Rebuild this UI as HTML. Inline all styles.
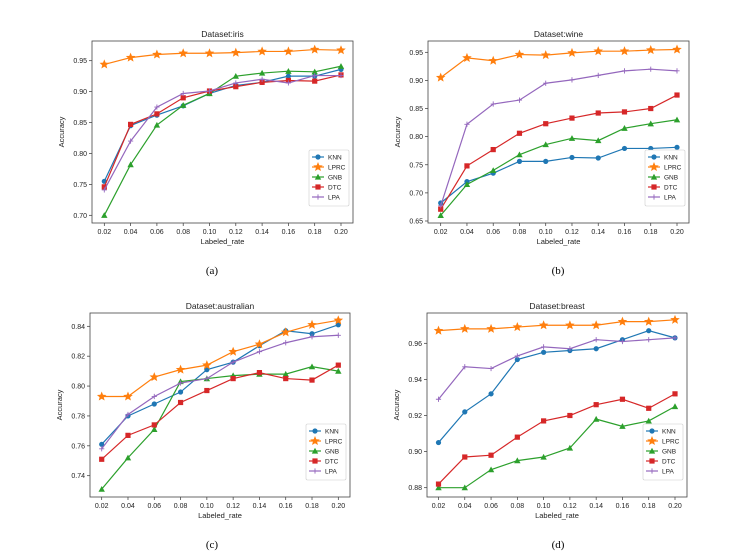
<!DOCTYPE html>
<html><head><meta charset="utf-8"><style>
body{margin:0;background:#fff;}
svg{display:block;font-family:"Liberation Sans","DejaVu Sans",sans-serif;}
</style></head><body>
<svg id="fig" width="751" height="556" viewBox="0 0 751 556"></svg>
<script>
const rates = [0.02,0.04,0.06,0.08,0.10,0.12,0.14,0.16,0.18,0.20];
const xTickLabels = ["0.02","0.04","0.06","0.08","0.10","0.12","0.14","0.16","0.18","0.20"];
const seriesNames = ["KNN","LPRC","GNB","DTC","LPA"];

const irisKNN  = [0.755,0.845,0.862,0.877,0.897,0.910,0.915,0.925,0.925,0.936];
const irisLPRC = [0.944,0.955,0.960,0.962,0.962,0.963,0.965,0.965,0.968,0.967];
const irisGNB  = [0.700,0.782,0.846,0.878,0.897,0.925,0.930,0.933,0.932,0.941];
const irisDTC  = [0.746,0.847,0.864,0.890,0.901,0.908,0.915,0.918,0.917,0.927];
const irisLPA  = [0.741,0.820,0.875,0.897,0.901,0.914,0.920,0.914,0.926,0.926];
const irisTicks = [0.70,0.75,0.80,0.85,0.90,0.95];

const wineKNN  = [0.682,0.720,0.735,0.756,0.756,0.763,0.762,0.779,0.779,0.781];
const wineLPRC = [0.905,0.940,0.935,0.946,0.945,0.949,0.952,0.952,0.954,0.955];
const wineGNB  = [0.660,0.715,0.740,0.768,0.786,0.797,0.793,0.815,0.823,0.830];
const wineDTC  = [0.671,0.748,0.777,0.806,0.823,0.833,0.842,0.844,0.850,0.874];
const wineLPA  = [0.677,0.822,0.858,0.865,0.895,0.901,0.909,0.917,0.920,0.917];
const wineTicks = [0.65,0.70,0.75,0.80,0.85,0.90,0.95];

const ausKNN  = [0.761,0.780,0.788,0.796,0.811,0.816,0.827,0.837,0.835,0.841];
const ausLPRC = [0.793,0.793,0.806,0.811,0.814,0.823,0.828,0.836,0.841,0.844];
const ausGNB  = [0.731,0.752,0.771,0.803,0.805,0.807,0.808,0.808,0.813,0.810];
const ausDTC  = [0.751,0.767,0.774,0.789,0.797,0.805,0.809,0.805,0.804,0.814];
const ausLPA  = [0.758,0.781,0.793,0.802,0.805,0.816,0.823,0.829,0.833,0.834];
const ausTicks = [0.74,0.76,0.78,0.80,0.82,0.84];

const brKNN  = [0.905,0.922,0.932,0.951,0.955,0.956,0.957,0.962,0.967,0.963];
const brLPRC = [0.967,0.968,0.968,0.969,0.970,0.970,0.970,0.972,0.972,0.973];
const brGNB  = [0.880,0.880,0.890,0.895,0.897,0.902,0.918,0.914,0.917,0.925];
const brDTC  = [0.882,0.897,0.898,0.908,0.917,0.920,0.926,0.929,0.924,0.932];
const brLPA  = [0.929,0.947,0.946,0.953,0.958,0.957,0.962,0.961,0.962,0.963];
const brTicks = [0.88,0.90,0.92,0.94,0.96];

const colors = ["#1f77b4","#ff7f0e","#2ca02c","#d62728","#9467bd"];
const NS = "http://www.w3.org/2000/svg";
const svg = document.getElementById("fig");
function mk(tag, attrs, parent){const e=document.createElementNS(NS,tag);for(const k in attrs)e.setAttribute(k,attrs[k]);(parent||svg).appendChild(e);return e;}

function marker(g, kind, cx, cy, c){
  let m;
  if(kind===0){m=mk("circle",{cx:cx,cy:cy,r:2.6,fill:c},g);}
  else if(kind===1){
    let p=[];for(let i=0;i<10;i++){const r=i%2?2.2:5;const a=-Math.PI/2+i*Math.PI/5;p.push((cx+r*Math.cos(a)).toFixed(2)+","+(cy+r*Math.sin(a)).toFixed(2));}
    m=mk("polygon",{points:p.join(" "),fill:c},g);
  } else if(kind===2){m=mk("polygon",{points:`${cx},${cy-3.2} ${cx+3.2},${cy+2.6} ${cx-3.2},${cy+2.6}`,fill:c},g);}
  else if(kind===3){m=mk("rect",{x:cx-2.6,y:cy-2.6,width:5.2,height:5.2,fill:c},g);}
  else {m=mk("path",{d:`M${cx-2.6},${cy}H${cx+2.6}M${cx},${cy-2.6}V${cy+2.6}`,stroke:c,"stroke-width":0.9},g);}
  return m;
}

function panel(cfg){
  const g=mk("g",{});
  
  
  const X=v=>cfg.x0+(v-0.02)/(0.18)*(cfg.x1-cfg.x0);
  const Y=v=>cfg.py0+(v-cfg.v0)/(cfg.v1-cfg.v0)*(cfg.py1-cfg.py0);
  const t=mk("text",{x:(cfg.L+cfg.R)/2,y:cfg.T-4,"font-size":8.5,"text-anchor":"middle",fill:"#222"},g);
  t.textContent="Dataset:"+cfg.name;
  
  
  // ticks
  rates.forEach((r,i)=>{
    const x=X(r);
    mk("line",{x1:x,x2:x,y1:cfg.B,y2:cfg.B+3,stroke:"#333","stroke-width":0.7},g);
    const tl=mk("text",{x:x,y:cfg.B+11,"font-size":7,"text-anchor":"middle",fill:"#222"},g);
    tl.textContent=xTickLabels[i];
    
    
  });
  cfg.ticks.forEach(v=>{
    const y=Y(v);
    mk("line",{x1:cfg.L-3,x2:cfg.L,y1:y,y2:y,stroke:"#333","stroke-width":0.7},g);
    const tl=mk("text",{x:cfg.L-5,y:y+2.5,"font-size":7,"text-anchor":"end",fill:"#222"},g);
    tl.textContent=v.toFixed(2);
    
    
  });
  const xl=mk("text",{x:(cfg.L+cfg.R)/2,y:cfg.B+21,"font-size":7.5,"text-anchor":"middle",fill:"#222"},g);
  xl.textContent="Labeled_rate";
  
  
  const yx=cfg.L-28, yy=(cfg.T+cfg.B)/2;
  const yl=mk("text",{x:yx,y:yy,"font-size":7.5,"text-anchor":"middle",fill:"#222",transform:`rotate(-90 ${yx} ${yy})`},g);
  yl.textContent="Accuracy";
  
  
  cfg.series.forEach((s,k)=>{
    const sg=mk("g",{},g);
    
    
    mk("polyline",{points:s.map((v,i)=>X(rates[i]).toFixed(2)+","+Y(v).toFixed(2)).join(" "),fill:"none",stroke:colors[k],"stroke-width":1.2},sg);
    s.forEach((v,i)=>{
      const m=marker(sg,k,X(rates[i]),Y(v),colors[k]);
      
      
    });
  });
  mk("rect",{x:cfg.L,y:cfg.T,width:cfg.R-cfg.L,height:cfg.B-cfg.T,fill:"none",stroke:"#444","stroke-width":0.8},g);
  // legend
  const lx=cfg.R-44, ly=cfg.B-73;
  const lg=mk("g",{},g);
  
  
  mk("rect",{x:lx,y:ly,width:40,height:56,fill:"#fff",stroke:"#ccc","stroke-width":0.6,rx:1.5},lg);
  seriesNames.forEach((n,k)=>{
    const yy=ly+7+k*10;
    const e=mk("g",{},lg);
    
    
    mk("line",{x1:lx+3,x2:lx+15,y1:yy,y2:yy,stroke:colors[k],"stroke-width":1.2},e);
    marker(e,k,lx+9,yy,colors[k]);
    const tx=mk("text",{x:lx+19,y:yy+2.5,"font-size":6.5,fill:"#222"},e);
    tx.textContent=n;
  });
  const cap=mk("text",{x:cfg.capX,y:cfg.capY,"font-size":11,"text-anchor":"middle",fill:"#000","font-family":"Liberation Serif, serif"},g);
  cap.textContent=cfg.cap;
  
  
}

panel({name:"iris",L:92,R:353,T:41,B:223,x0:104.3,x1:341,v0:0.70,v1:0.95,py0:215.3,py1:60.7,ticks:irisTicks,
  series:[irisKNN,irisLPRC,irisGNB,irisDTC,irisLPA],cap:"(a)",capX:212,capY:274});
panel({name:"wine",L:428,R:689,T:41,B:223,x0:440.7,x1:677,v0:0.65,v1:0.95,py0:221,py1:52.3,ticks:wineTicks,
  series:[wineKNN,wineLPRC,wineGNB,wineDTC,wineLPA],cap:"(b)",capX:558,capY:274});
panel({name:"australian",L:90,R:350,T:313,B:497,x0:101.7,x1:338.3,v0:0.74,v1:0.84,py0:475.7,py1:326.3,ticks:ausTicks,
  series:[ausKNN,ausLPRC,ausGNB,ausDTC,ausLPA],cap:"(c)",capX:212,capY:548});
panel({name:"breast",L:427,R:687,T:313,B:497,x0:438.5,x1:675,v0:0.88,v1:0.96,py0:487.7,py1:343.3,ticks:brTicks,
  series:[brKNN,brLPRC,brGNB,brDTC,brLPA],cap:"(d)",capX:558,capY:548});
</script>
</body></html>
